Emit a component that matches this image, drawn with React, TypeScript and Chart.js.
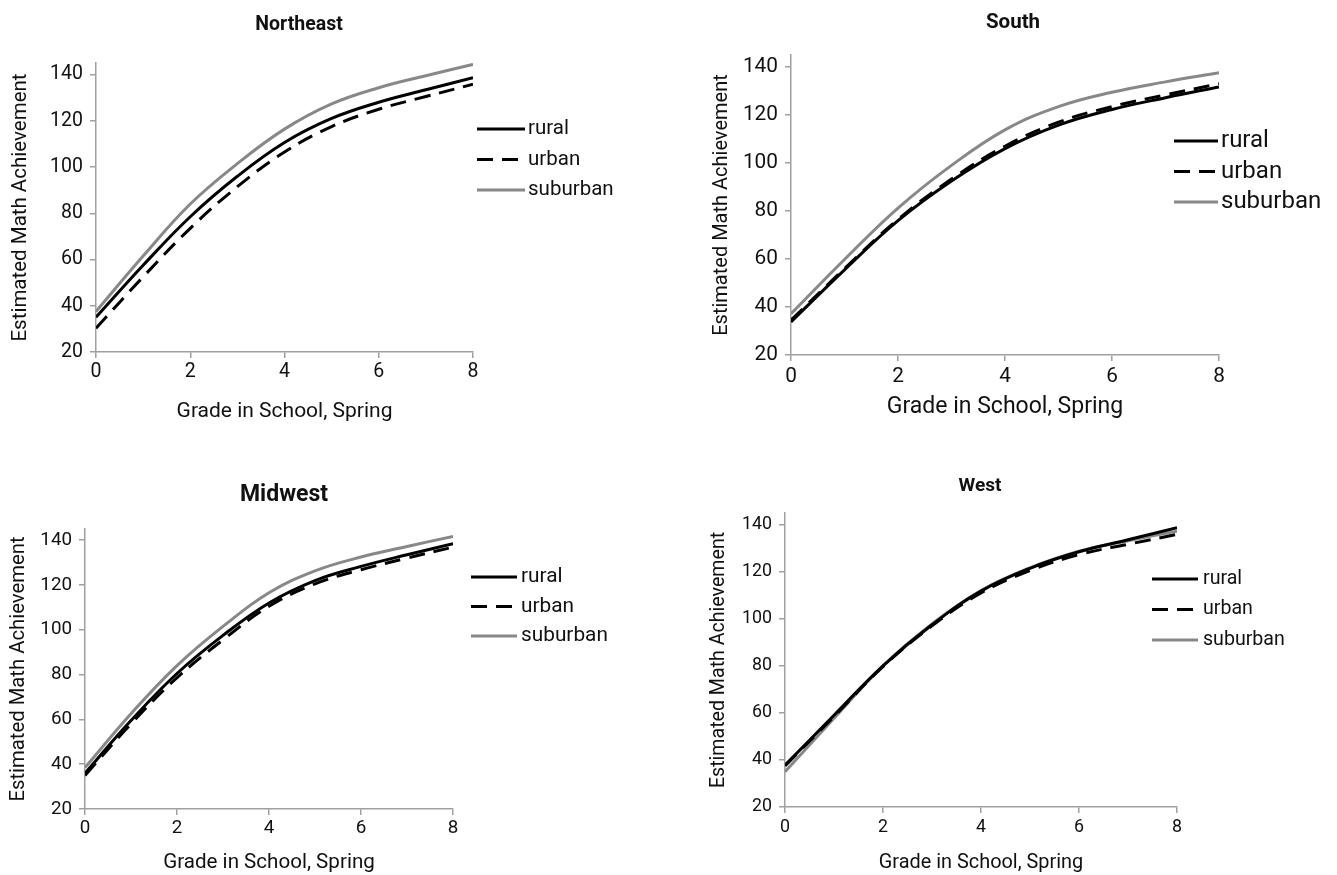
import React, { useEffect, useRef } from "react";
import { Chart, registerables } from "chart.js";

Chart.register(...registerables);

// ---------- data ----------
const grades = [0, 1, 2, 3, 4, 5, 6, 7, 8];
const seriesNames = ["rural", "urban", "suburban"];
const xTickValues = [0, 2, 4, 6, 8];
const yTickValues = [20, 40, 60, 80, 100, 120, 140];
const xAxisTitle = "Grade in School, Spring";
const yAxisTitle = "Estimated Math Achievement";

const northeastRural = [35, 57.5, 78.5, 96, 110.6, 121, 128, 133.4, 138.6];
const northeastUrban = [30.3, 52.5, 73.5, 91.5, 106.5, 117.5, 125, 130.5, 135.8];
const northeastSuburban = [37.5, 61.5, 84, 101.5, 116.4, 127.3, 134.3, 139.5, 144.4];

const southRural = [33.8, 55.5, 76, 92.5, 106, 115.8, 122.3, 127.2, 131.7];
const southUrban = [34.5, 56, 76.5, 93.3, 107, 117, 123.5, 128.4, 133];
const southSuburban = [37.2, 59.8, 81.2, 99, 113.8, 123.5, 129.5, 133.8, 137.6];

const midwestRural = [36, 59.5, 80.5, 97.5, 112, 122, 128.3, 133.5, 138.4];
const midwestUrban = [35, 58, 78.6, 95.5, 110.5, 120.5, 126.8, 132, 136.9];
const midwestSuburban = [38.5, 62.5, 84, 101.5, 116.5, 126.3, 132.5, 137.2, 141.7];

const westRural = [37.8, 59, 80, 97.5, 111.8, 121.5, 128.5, 133.6, 138.7];
const westUrban = [37.5, 58.5, 79.7, 97, 111, 120.5, 127.3, 131.7, 135.9];
const westSuburban = [35, 57.7, 80, 97.8, 112, 121.7, 128.8, 133.2, 137.3];

// ---------- style ----------
const FONT = "Roboto, 'Open Sans', sans-serif";
const AXIS_GRAY = "#a0a0a0";
const TEXT = "#111111";
const SERIES_STYLE = [
  { color: "#000000", dash: [] as number[] },
  { color: "#000000", dash: [16, 9] },
  { color: "#888888", dash: [] as number[] },
];

type Panel = {
  title: string;
  values: number[][];
  box: { left: number; top: number; width: number; height: number };
  area: { L: number; R: number; T: number; B: number };
  titlePos: { x: number; y: number; size: number };
  yTitleX: number;
  yTitleSize: number;
  xTitleY: number;
  xTitleSize: number;
  tickSize: number;
  xTickCenter: number;
  legend: { x0: number; x1: number; tx: number; y0: number; gap: number; size: number };
};

const panels: Panel[] = [
  {
    title: "Northeast",
    values: [northeastRural, northeastUrban, northeastSuburban],
    box: { left: 0, top: 0, width: 668, height: 437 },
    area: { L: 96, R: 473, T: 63, B: 352 },
    titlePos: { x: 299, y: 25, size: 19.5 },
    yTitleX: 21,
    yTitleSize: 20.5,
    xTitleY: 412,
    xTitleSize: 21,
    tickSize: 19.5,
    xTickCenter: 372,
    legend: { x0: 4, x1: 52, tx: 55, y0: 66, gap: 30.5, size: 20.5 },
  },
  {
    title: "South",
    values: [southRural, southUrban, southSuburban],
    box: { left: 668, top: 0, width: 669, height: 437 },
    area: { L: 791, R: 1219, T: 55, B: 355 },
    titlePos: { x: 1013, y: 23, size: 20.5 },
    yTitleX: 722,
    yTitleSize: 20,
    xTitleY: 407,
    xTitleSize: 23,
    tickSize: 20.8,
    xTickCenter: 377,
    legend: { x0: -45, x1: -1, tx: 2, y0: 86, gap: 30.5, size: 24 },
  },
  {
    title: "Midwest",
    values: [midwestRural, midwestUrban, midwestSuburban],
    box: { left: 0, top: 437, width: 668, height: 438 },
    area: { L: 85, R: 453, T: 529, B: 809 },
    titlePos: { x: 284, y: 495, size: 23 },
    yTitleX: 19,
    yTitleSize: 20.3,
    xTitleY: 863,
    xTitleSize: 20.6,
    tickSize: 18.8,
    xTickCenter: 828,
    legend: { x0: 18, x1: 64, tx: 68, y0: 48, gap: 29.5, size: 20.8 },
  },
  {
    title: "West",
    values: [westRural, westUrban, westSuburban],
    box: { left: 668, top: 437, width: 669, height: 438 },
    area: { L: 785, R: 1177, T: 513, B: 807 },
    titlePos: { x: 980, y: 486, size: 19.1 },
    yTitleX: 719,
    yTitleSize: 19.6,
    xTitleY: 863,
    xTitleSize: 19.9,
    tickSize: 17.8,
    xTickCenter: 828,
    legend: { x0: -25, x1: 21, tx: 26, y0: 66, gap: 30.5, size: 19.6 },
  },
];

const TICK_LEN = 6;

const panelTextPlugin = {
  id: "panelText",
  afterDraw(chart: any, _args: any, opts: any) {
    const { ctx, chartArea } = chart;
    ctx.save();
    ctx.fillStyle = TEXT;
    ctx.textAlign = "center";
    ctx.textBaseline = "middle";
    ctx.font = `bold ${opts.titleSize}px ${FONT}`;
    ctx.fillText(opts.title, opts.titleX, opts.titleY);
    chart.data.datasets.forEach((ds: any, i: number) => {
      const y = chartArea.top + opts.y0 + i * opts.gap;
      ctx.beginPath();
      ctx.setLineDash(ds.borderDash || []);
      ctx.lineWidth = ds.borderWidth;
      ctx.strokeStyle = ds.borderColor;
      ctx.moveTo(chartArea.right + opts.x0, y);
      ctx.lineTo(chartArea.right + opts.x1, y);
      ctx.stroke();
      ctx.setLineDash([]);
      ctx.font = `${opts.size}px ${FONT}`;
      ctx.textAlign = "left";
      ctx.fillStyle = TEXT;
      ctx.fillText(ds.label, chartArea.right + opts.tx, y);
    });
    ctx.restore();
  },
};

function PanelChart({ p }: { p: Panel }) {
  const ref = useRef<HTMLCanvasElement | null>(null);
  useEffect(() => {
    const canvas = ref.current;
    if (!canvas) return;
    const { box, area } = p;
    const Ll = area.L - box.left;
    const Rl = area.R - box.left;
    const Tl = area.T - box.top;
    const Bl = area.B - box.top;
    const yAxisW = Ll;
    const yTitlePad = p.yTitleX - box.left - p.yTitleSize / 2;
    const xAxisH = p.xTitleY - area.B + p.xTitleSize / 2;
    const padBottom = box.height - Bl - xAxisH;
    const padRight = box.width - Rl;
    const xTickPad = p.xTickCenter - area.B - TICK_LEN - p.tickSize / 2;

    const chart = new Chart(canvas, {
      type: "line",
      data: {
        datasets: seriesNames.map((name, i) => ({
          label: name,
          data: grades.map((g, j) => ({ x: g, y: p.values[i][j] })),
          borderColor: SERIES_STYLE[i].color,
          backgroundColor: SERIES_STYLE[i].color,
          borderDash: SERIES_STYLE[i].dash,
          borderWidth: 3,
          pointRadius: 0,
          tension: 0.4,
          fill: false,
        })),
      },
      options: {
        responsive: false,
        animation: false,
        devicePixelRatio: 1,
        layout: { padding: { left: 0, top: Tl, right: padRight, bottom: padBottom } },
        plugins: {
          legend: { display: false },
          title: { display: false },
          tooltip: { enabled: false },
          panelText: {
            title: p.title,
            titleX: p.titlePos.x - box.left,
            titleY: p.titlePos.y - box.top,
            titleSize: p.titlePos.size,
            ...p.legend,
          },
        } as any,
        scales: {
          x: {
            type: "linear",
            min: 0,
            max: 8,
            afterBuildTicks: (s: any) => {
              s.ticks = xTickValues.map((v) => ({ value: v }));
            },
            afterFit: (s: any) => {
              s.height = xAxisH;
            },
            ticks: {
              font: { family: FONT, size: p.tickSize, lineHeight: 1 },
              color: TEXT,
              padding: xTickPad,
              maxRotation: 0,
              autoSkip: false,
            },
            grid: {
              drawOnChartArea: false,
              drawTicks: true,
              tickLength: TICK_LEN,
              color: AXIS_GRAY,
              lineWidth: 1.5,
            },
            border: { display: true, color: AXIS_GRAY, width: 1.5 },
            title: {
              display: true,
              text: xAxisTitle,
              color: TEXT,
              font: { family: FONT, size: p.xTitleSize, lineHeight: 1 },
              padding: 0,
            },
          },
          y: {
            type: "linear",
            min: 20,
            max: 145,
            afterBuildTicks: (s: any) => {
              s.ticks = yTickValues.map((v) => ({ value: v }));
            },
            afterFit: (s: any) => {
              s.width = yAxisW;
            },
            ticks: {
              font: { family: FONT, size: p.tickSize, lineHeight: 1 },
              color: TEXT,
              padding: 7,
              autoSkip: false,
            },
            grid: {
              drawOnChartArea: false,
              drawTicks: true,
              tickLength: TICK_LEN,
              color: AXIS_GRAY,
              lineWidth: 1.5,
            },
            border: { display: true, color: AXIS_GRAY, width: 1.5 },
            title: {
              display: true,
              text: yAxisTitle,
              color: TEXT,
              font: { family: FONT, size: p.yTitleSize, lineHeight: 1 },
              padding: { top: yTitlePad, bottom: 0 },
            },
          },
        },
      },
      plugins: [panelTextPlugin],
    });
    return () => chart.destroy();
  }, [p]);

  return (
    <canvas
      ref={ref}
      width={p.box.width}
      height={p.box.height}
      style={{
        position: "absolute",
        left: p.box.left,
        top: p.box.top,
        width: p.box.width,
        height: p.box.height,
      }}
    />
  );
}

export default function App() {
  return (
    <div
      style={{
        position: "absolute",
        left: 0,
        top: 0,
        width: 1337,
        height: 875,
        background: "#ffffff",
        overflow: "hidden",
      }}
    >
      {panels.map((p) => (
        <PanelChart key={p.title} p={p} />
      ))}
    </div>
  );
}
